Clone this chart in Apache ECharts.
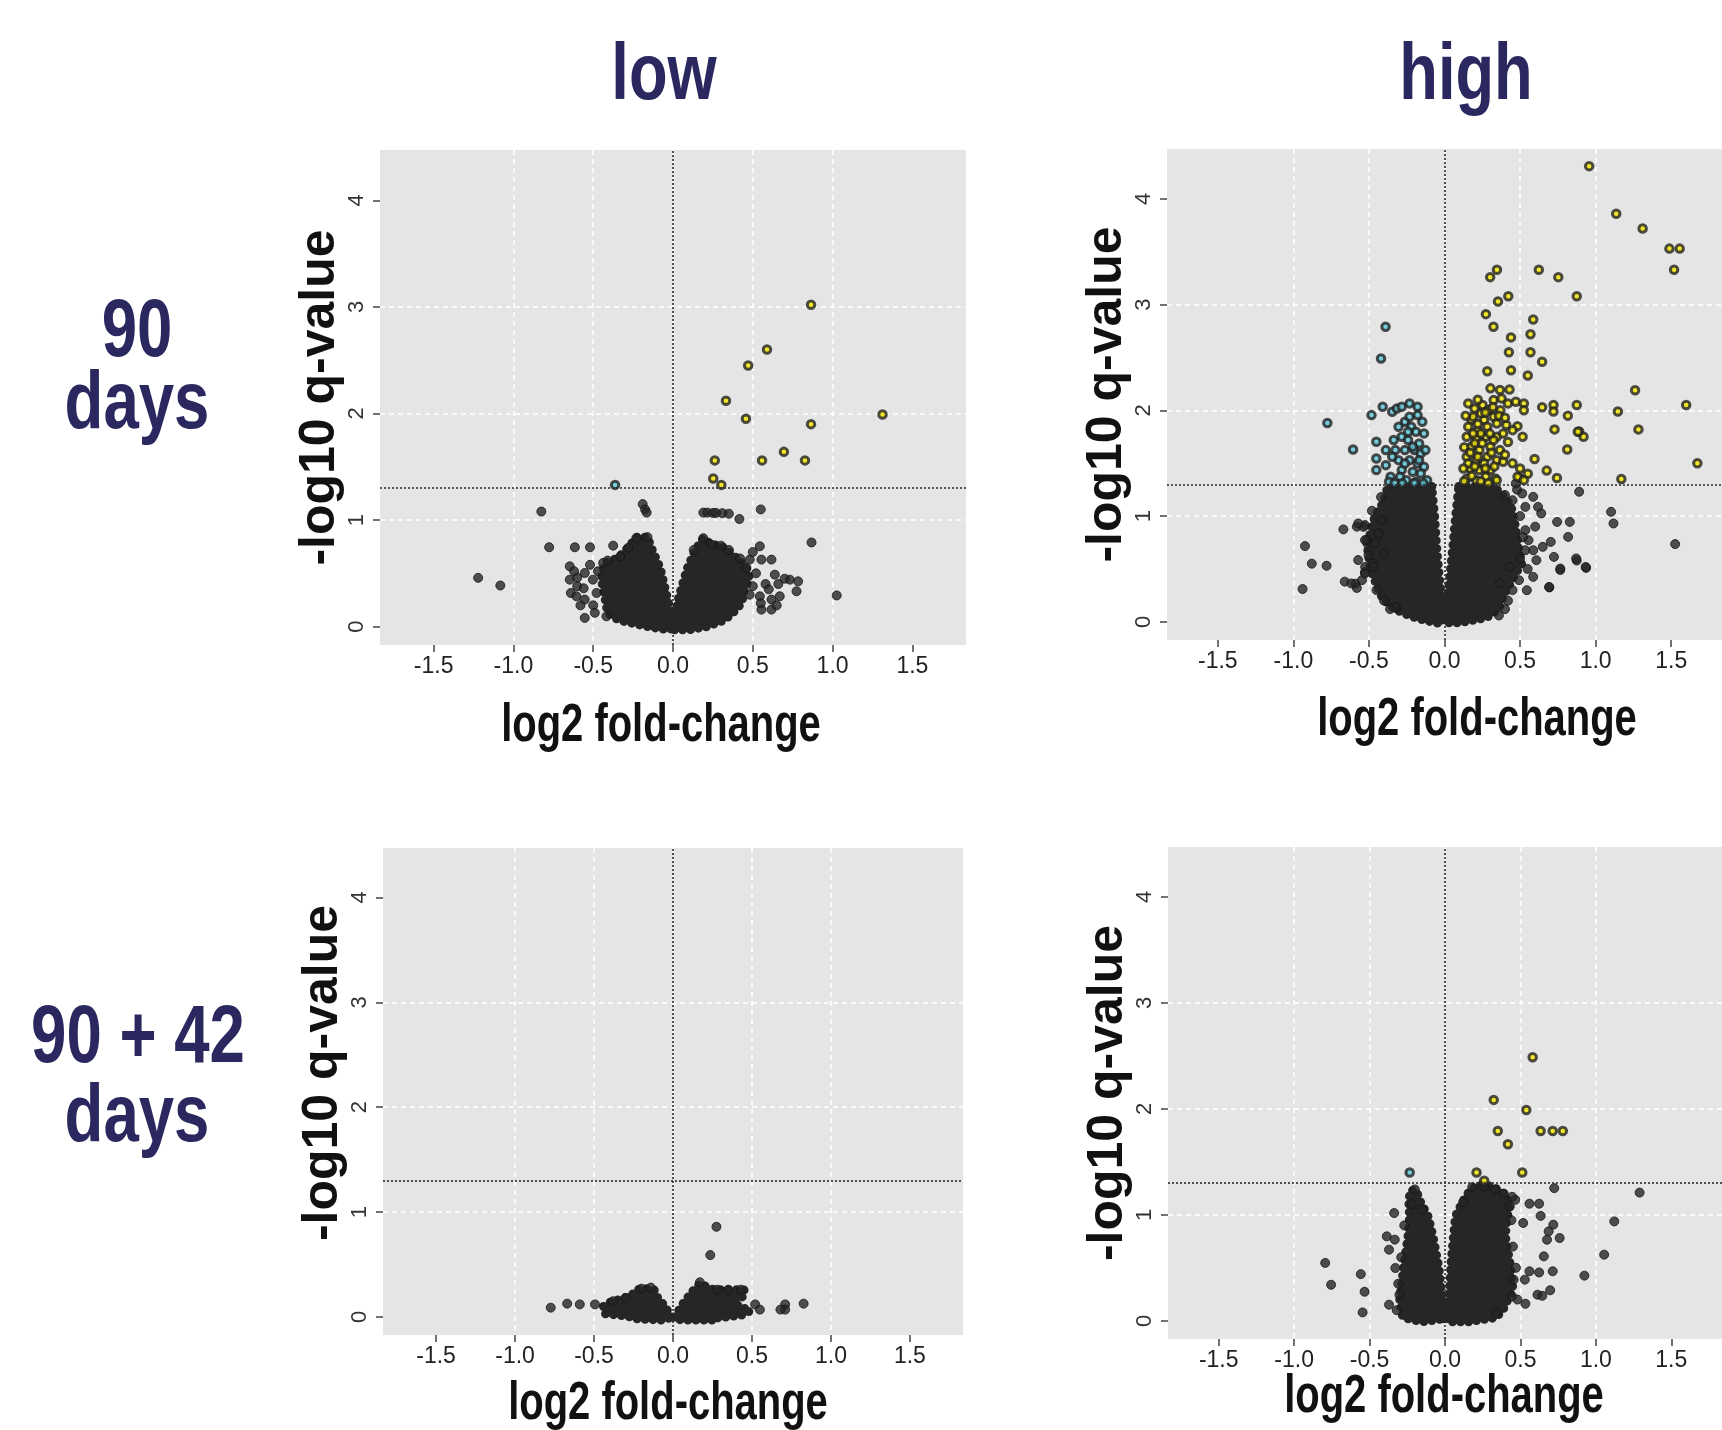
<!DOCTYPE html>
<html><head><meta charset="utf-8">
<script src="https://cdn.jsdelivr.net/npm/echarts@6/dist/echarts.min.js"></script>
<style>html,body{margin:0;padding:0;background:#fff}#c{width:1722px;height:1430px}</style>
</head><body><div id="c"></div>
<script>
// ---------------- data ----------------
const columnTitles = ['low', 'high'];
const rowTitles = [['90', 'days'], ['90 + 42', 'days']];
const xAxisTitle = 'log2 fold-change';
const yAxisTitle = '-log10 q-value';
const xTickValues = [-1.5, -1, -0.5, 0, 0.5, 1, 1.5];
const xTickLabels = ['-1.5', '-1.0', '-0.5', '0.0', '0.5', '1.0', '1.5'];
const yTickValues = [0, 1, 2, 3, 4];
const yTickLabels = ['0', '1', '2', '3', '4'];
const xRange = [-1.836, 1.836];
const yRange = [-0.172, 4.472];
const qThreshold = 1.301;

// dense cores (outline of the solid point mass), [log2FC, -log10 q]
const low90Core = [
  [[0, 0.0], [-0.01, 0.1], [-0.04, 0.3], [-0.08, 0.55], [-0.13, 0.72], [-0.16, 0.84], [-0.23, 0.84], [-0.27, 0.76], [-0.34, 0.65], [-0.37, 0.63], [-0.43, 0.59], [-0.45, 0.45], [-0.43, 0.30], [-0.41, 0.13], [-0.34, 0.06], [-0.22, 0.02], [-0.12, -0.01], [-0.02, -0.03]],
  [[0.01, -0.03], [0.01, 0.1], [0.04, 0.3], [0.09, 0.55], [0.14, 0.72], [0.19, 0.83], [0.24, 0.77], [0.30, 0.76], [0.36, 0.69], [0.41, 0.63], [0.46, 0.55], [0.48, 0.45], [0.45, 0.36], [0.43, 0.22], [0.37, 0.12], [0.32, 0.06], [0.21, 0.0], [0.10, -0.03]]
];
const low90NS = [
  [-0.825, 1.08], [-0.19, 1.15], [-0.175, 1.10], [-0.165, 1.07], [0.19, 1.07], [0.215, 1.07], [0.25, 1.067], [0.27, 1.067], [0.31, 1.065], [0.35, 1.06], [0.416, 1.01],
  [0.55, 1.10], [0.868, 0.79], [-0.776, 0.745], [-0.615, 0.745], [-0.52, 0.745], [-0.375, 0.76], [-1.221, 0.458], [-1.082, 0.386], [1.026, 0.293],
  [-0.647, 0.566], [-0.647, 0.441], [-0.64, 0.316], [-0.605, 0.285], [-0.553, 0.504], [-0.553, 0.254], [-0.553, 0.082], [-0.502, 0.441], [-0.479, 0.316], [-0.417, 0.097], [-0.438, 0.598],
  [-0.62, 0.52], [-0.6, 0.38], [-0.58, 0.2], [-0.56, 0.36], [-0.52, 0.58], [-0.5, 0.2], [-0.49, 0.13], [-0.47, 0.52], [-0.6, 0.46],
  [0.544, 0.754], [0.554, 0.629], [0.617, 0.629], [0.481, 0.629], [0.638, 0.488], [0.732, 0.441], [0.784, 0.425], [0.774, 0.332], [0.669, 0.285], [0.544, 0.285], [0.617, 0.254], [0.554, 0.16], [0.617, 0.16],
  [0.5, 0.7], [0.52, 0.5], [0.58, 0.4], [0.6, 0.35], [0.66, 0.4], [0.7, 0.45], [0.5, 0.38], [0.55, 0.22], [0.65, 0.2], [0.48, 0.3],
  [-0.23, 0.83], [-0.16, 0.84], [-0.28, 0.74], [-0.33, 0.66], [-0.41, 0.62], [0.19, 0.83], [0.24, 0.77], [0.3, 0.76], [0.35, 0.72], [0.13, 0.72], [0.42, 0.64], [0.46, 0.55]
];
const low90Down = [[-0.363, 1.33]];
const low90Up = [
  [0.865, 3.02], [0.589, 2.60], [0.471, 2.45], [0.332, 2.12], [0.457, 1.95], [0.865, 1.90], [1.313, 1.99],
  [0.695, 1.64], [0.262, 1.56], [0.558, 1.56], [0.827, 1.56], [0.252, 1.39], [0.303, 1.33]
];

const high90Core = [
  [[-0.084, 1.28], [-0.376, 1.28], [-0.40, 1.14], [-0.46, 1.0], [-0.49, 0.85], [-0.51, 0.70], [-0.49, 0.50], [-0.45, 0.35], [-0.41, 0.22], [-0.33, 0.12], [-0.22, 0.05], [-0.12, 0.01], [-0.02, -0.02], [-0.01, 0.1], [-0.03, 0.36], [-0.05, 0.67], [-0.065, 1.0]],
  [[0.094, 1.28], [0.325, 1.28], [0.38, 1.21], [0.44, 1.10], [0.47, 0.90], [0.49, 0.70], [0.51, 0.55], [0.45, 0.40], [0.39, 0.25], [0.36, 0.12], [0.28, 0.04], [0.10, -0.01], [0.02, -0.01], [0.01, 0.1], [0.03, 0.36], [0.052, 0.67], [0.073, 0.99]]
];
const high90NS = [
  [-0.923, 0.716], [-0.878, 0.55], [-0.78, 0.53], [-0.939, 0.31], [-0.669, 0.874], [-0.66, 0.38], [-0.59, 0.36], [-0.58, 0.32], [-0.58, 0.9], [-0.526, 0.915], [-0.51, 0.74], [-0.46, 0.74], [-0.526, 0.47], [-0.32, 0.13],
  [0.891, 1.23], [1.102, 1.04], [1.118, 0.93], [1.526, 0.735], [0.937, 0.51], [0.875, 0.58], [0.766, 0.49], [0.694, 0.325],
  [0.472, 1.308], [0.514, 1.214], [0.535, 1.087], [0.587, 1.182], [0.619, 1.087], [0.64, 1.025], [0.535, 0.867], [0.556, 0.772], [0.535, 0.677], [0.587, 0.677], [0.608, 0.583], [0.65, 0.709],
  [0.703, 0.756], [0.745, 0.945], [0.829, 0.945], [0.818, 0.803], [0.724, 0.614], [0.766, 0.504], [0.871, 0.599], [0.934, 0.519], [0.692, 0.33], [0.587, 0.425], [0.545, 0.299], [0.493, 0.394], [0.43, 0.519], [0.367, 0.362],
  [-0.536, 0.898], [-0.515, 0.772], [-0.525, 0.519], [-0.473, 0.551], [-0.546, 0.394], [-0.326, 0.141],
  [-0.571, 0.93], [-0.526, 0.773], [-0.503, 0.631], [-0.435, 0.836], [-0.571, 0.584], [-0.526, 0.457], [-0.469, 0.52], [-0.617, 0.363], [-0.413, 0.962], [-0.401, 0.647],
  [0.4, 1.2], [0.45, 1.15], [0.5, 1.0], [0.52, 0.8], [0.5, 0.6], [0.45, 0.3], [0.42, 0.2], [0.55, 0.5], [0.6, 0.9], [0.48, 1.25],
  [-0.45, 0.3], [-0.4, 0.2], [-0.36, 0.12], [-0.48, 1.05], [-0.42, 1.18], [0.4, 0.12], [0.36, 0.06]
];
const high90Down = [
  [-0.39, 2.79], [-0.42, 2.49], [-0.775, 1.88], [-0.605, 1.63], [-0.483, 1.955], [-0.409, 2.034], [-0.346, 1.987], [-0.315, 2.018], [-0.283, 2.034], [-0.231, 2.066], [-0.178, 2.034],
  [-0.451, 1.703], [-0.388, 1.624], [-0.451, 1.545], [-0.451, 1.435], [-0.388, 1.482], [-0.357, 1.372],
  [-0.262, 1.892], [-0.220, 1.845], [-0.189, 1.797], [-0.283, 1.750], [-0.241, 1.719], [-0.168, 1.687], [-0.325, 1.624], [-0.262, 1.624], [-0.199, 1.624], [-0.157, 1.593], [-0.304, 1.529],
  [-0.231, 1.529], [-0.178, 1.498], [-0.136, 1.466], [-0.283, 1.435], [-0.210, 1.419], [-0.157, 1.403], [-0.115, 1.340], [-0.252, 1.340], [-0.189, 1.325], [-0.294, 1.372], [-0.336, 1.719],
  [-0.241, 1.797], [-0.210, 1.656], [-0.168, 1.529], [-0.262, 1.498], [-0.346, 1.561], [-0.231, 1.939], [-0.147, 1.892], [-0.136, 1.782], [-0.178, 1.955], [-0.126, 1.624], [-0.304, 1.845],
  [-0.367, 1.325], [-0.33, 1.31], [-0.2, 1.31], [-0.14, 1.31], [-0.28, 1.31]
];
const high90Up = [
  [0.957, 4.31], [1.136, 3.86], [1.311, 3.72], [1.488, 3.53], [1.556, 3.53], [1.519, 3.33], [0.347, 3.33], [0.302, 3.26], [0.624, 3.33], [0.753, 3.26], [0.875, 3.08], [0.354, 3.03], [0.422, 3.08],
  [0.274, 2.91], [0.324, 2.79], [0.587, 2.86], [0.569, 2.72], [0.44, 2.69], [0.426, 2.55], [0.569, 2.55], [0.646, 2.46], [0.283, 2.37], [0.44, 2.38], [0.551, 2.33], [1.261, 2.19], [1.599, 2.05],
  [1.147, 1.99], [1.283, 1.82], [0.875, 2.05], [0.721, 2.05], [0.721, 1.99], [0.646, 2.03], [0.816, 1.95], [0.728, 1.82], [0.891, 1.80], [0.92, 1.75], [0.812, 1.63], [0.596, 1.54], [0.676, 1.43],
  [0.744, 1.36], [1.17, 1.35], [0.551, 1.40], [0.494, 1.36], [0.517, 1.75], [0.483, 1.85], [1.673, 1.50],
  [0.304, 2.208], [0.367, 2.192], [0.43, 2.198], [0.325, 2.097], [0.378, 2.113], [0.42, 2.066], [0.472, 2.081], [0.525, 2.066], [0.525, 2.0], [0.882, 1.797], [0.483, 1.372], [0.525, 1.34], [0.336, 1.356],
  [0.157, 2.066], [0.199, 2.018], [0.241, 1.971], [0.178, 1.908], [0.262, 1.908], [0.325, 1.939], [0.157, 1.845], [0.220, 1.813], [0.283, 1.845], [0.346, 1.876], [0.409, 1.861], [0.147, 1.750],
  [0.210, 1.734], [0.273, 1.750], [0.346, 1.750], [0.178, 1.656], [0.231, 1.624], [0.304, 1.656], [0.367, 1.624], [0.147, 1.561], [0.210, 1.529], [0.283, 1.561], [0.346, 1.529], [0.388, 1.514],
  [0.168, 1.451], [0.231, 1.435], [0.304, 1.435], [0.147, 1.356], [0.210, 1.340], [0.273, 1.372], [0.346, 1.340], [0.189, 1.939], [0.252, 2.050], [0.294, 2.003], [0.220, 1.561], [0.262, 1.498],
  [0.157, 1.498], [0.325, 1.719], [0.388, 1.782], [0.451, 1.813], [0.13, 1.65], [0.125, 1.45], [0.13, 1.33], [0.18, 1.38], [0.24, 1.33], [0.29, 1.31], [0.2, 1.47], [0.27, 1.45], [0.2, 1.69],
  [0.25, 1.69], [0.24, 1.78], [0.19, 1.78], [0.3, 1.78], [0.22, 1.87], [0.27, 1.98], [0.32, 2.03], [0.37, 2.0], [0.36, 1.95], [0.4, 1.93], [0.31, 1.6], [0.33, 1.47], [0.17, 1.6], [0.14, 1.95],
  [0.22, 2.1], [0.42, 1.7], [0.4, 1.58], [0.45, 1.5], [0.5, 1.45]
];

const low9042Core = [
  [[-0.01, 0.0], [-0.05, 0.1], [-0.10, 0.19], [-0.12, 0.26], [-0.17, 0.27], [-0.23, 0.26], [-0.26, 0.21], [-0.33, 0.17], [-0.40, 0.14], [-0.44, 0.10], [-0.43, 0.03], [-0.30, 0.01], [-0.22, -0.02], [-0.05, -0.03]],
  [[0.01, 0.0], [0.06, 0.12], [0.12, 0.24], [0.175, 0.32], [0.22, 0.28], [0.26, 0.26], [0.45, 0.26], [0.45, 0.2], [0.38, 0.15], [0.42, 0.1], [0.49, 0.06], [0.44, 0.02], [0.28, -0.01], [0.28, -0.03], [0.05, -0.03]]
];
const low9042NS = [
  [0.275, 0.86], [0.236, 0.59], [-0.774, 0.089], [-0.67, 0.127], [-0.59, 0.12], [-0.494, 0.12], [0.827, 0.127], [0.71, 0.12], [0.71, 0.07], [0.52, 0.12], [0.55, 0.07], [0.68, 0.07],
  [-0.2, 0.27], [-0.14, 0.28], [-0.3, 0.18], [-0.38, 0.15], [0.17, 0.33], [0.28, 0.26], [0.35, 0.26], [0.43, 0.26]
];
const low9042Down = [];
const low9042Up = [];

const high9042Core = [
  [[-0.005, 0.02], [-0.04, 0.5], [-0.08, 0.8], [-0.11, 0.98], [-0.165, 1.13], [-0.19, 1.23], [-0.23, 1.23], [-0.24, 1.13], [-0.235, 0.98], [-0.245, 0.8], [-0.275, 0.5], [-0.30, 0.2], [-0.28, 0.03], [-0.15, -0.01]],
  [[0.014, 0.03], [0.03, 0.3], [0.04, 0.55], [0.056, 0.8], [0.07, 0.99], [0.12, 1.13], [0.16, 1.22], [0.22, 1.28], [0.28, 1.28], [0.35, 1.24], [0.39, 1.2], [0.43, 1.1], [0.41, 0.95], [0.40, 0.8], [0.43, 0.55], [0.45, 0.3], [0.39, 0.12], [0.34, 0.03], [0.15, -0.01], [0.02, -0.01]]
];
const high9042NS = [
  [0.724, 1.252], [1.122, 0.938], [1.055, 0.624], [0.924, 0.426], [0.56, 1.105], [0.624, 1.105], [0.634, 0.99], [0.518, 0.923], [0.718, 0.907], [0.687, 0.844], [0.676, 0.765], [0.76, 0.781],
  [0.655, 0.608], [0.714, 0.467], [0.624, 0.456], [0.56, 0.467], [0.529, 0.388], [0.697, 0.288], [0.613, 0.246], [0.645, 0.236], [0.533, 0.161], [0.445, 0.23], [0.34, 0.073], [0.455, 0.388],
  [0.466, 1.142], [0.445, 1.17], [-0.337, 1.017], [-0.386, 0.797], [-0.333, 0.766], [-0.371, 0.671], [-0.329, 0.498], [-0.371, 0.152], [-0.302, 0.246],
  [1.29, 1.21], [-0.794, 0.546], [-0.755, 0.34], [-0.558, 0.44], [-0.533, 0.274], [-0.546, 0.079],
  [-0.2, 1.24], [-0.22, 1.1], [-0.15, 1.05], [0.18, 1.26], [0.26, 1.27], [0.33, 1.24], [0.39, 1.2], [0.43, 1.08], [0.12, 1.12],
  [-0.27, 0.9], [-0.29, 0.6], [-0.31, 0.35], [-0.32, 0.1], [0.47, 0.5], [0.48, 0.2], [0.45, 0.7], [0.44, 0.95]
];
const high9042Down = [[-0.234, 1.40]];
const high9042Up = [
  [0.581, 2.488], [0.323, 2.085], [0.539, 1.99], [0.35, 1.792], [0.634, 1.792], [0.714, 1.792], [0.781, 1.792], [0.417, 1.667], [0.209, 1.40], [0.512, 1.40], [0.26, 1.321]
];

// ---------------- layout / style ----------------
const panels = [
  { core: low90Core, ns: low90NS, down: low90Down, up: low90Up,
    grid: { left: 380, top: 150, width: 586, height: 495 }, yGap: 33, yShift: 0, xTitle: [661, 726] },
  { core: high90Core, ns: high90NS, down: high90Down, up: high90Up,
    grid: { left: 1167, top: 149, width: 583, height: 491 }, yGap: 33, yShift: 0, xTitle: [1477, 720] },
  { core: low9042Core, ns: low9042NS, down: low9042Down, up: low9042Up,
    grid: { left: 383, top: 848, width: 580, height: 487 }, yGap: 34, yShift: 37, xTitle: [668, 1404] },
  { core: high9042Core, ns: high9042NS, down: high9042Down, up: high9042Up,
    grid: { left: 1168, top: 847, width: 582, height: 492 }, yGap: 34, yShift: 0, xTitle: [1444, 1397] }
];

const INK = '#262626';
const NAVY = '#2a285f';
const SANS = '"Liberation Sans", Arial, sans-serif';

const grids = [], xAxes = [], yAxes = [], series = [];
const graphic = [];
panels.forEach((p, i) => {
  grids.push(Object.assign({ show: true, backgroundColor: '#e5e5e5', borderWidth: 0 }, p.grid));
  xAxes.push({
    gridIndex: i, type: 'value', min: xRange[0], max: xRange[1],
    axisLine: { show: false, onZero: false },
    axisTick: { show: true, length: 7, customValues: xTickValues, lineStyle: { color: '#444', width: 1.5 } },
    axisLabel: { customValues: xTickValues, margin: 10, fontFamily: SANS, fontSize: 23, color: '#222',
      formatter: v => xTickLabels[xTickValues.findIndex(t => Math.abs(t - v) < 1e-6)] || '' },
    splitLine: { show: true, showMinLine: false, showMaxLine: false, lineStyle: { color: '#ffffff', type: [5, 4], width: 1.6 } }
  });
  yAxes.push({
    gridIndex: i, type: 'value', min: yRange[0], max: yRange[1],
    name: yAxisTitle, nameLocation: 'middle', nameGap: p.yGap,
    nameTextStyle: { fontFamily: SANS, fontWeight: 'bold', fontSize: 50, color: '#111',
      padding: [0, 0, 0, p.yShift] },
    axisLine: { show: false, onZero: false },
    axisTick: { show: true, length: 7, customValues: yTickValues, lineStyle: { color: '#444', width: 1.5 } },
    axisLabel: { customValues: yTickValues, rotate: 90, margin: 12, fontFamily: SANS, fontSize: 22, color: '#333',
      formatter: v => yTickLabels[yTickValues.findIndex(t => Math.abs(t - v) < 1e-6)] || '' },
    splitLine: { show: true, showMinLine: false, showMaxLine: false, lineStyle: { color: '#ffffff', type: [5, 4], width: 1.6 } }
  });
  // condensed x-axis title (the reference uses a condensed face)
  graphic.push({ type: 'text', x: p.xTitle[0], y: p.xTitle[1], scaleX: 0.74,
    style: { text: xAxisTitle, fontFamily: SANS, fontWeight: 'bold', fontSize: 54, fill: '#111', align: 'center', verticalAlign: 'middle' } });

  const lobes = p.core;
  // solid mass of overlapping points: filled outline with a beaded (round-dot) edge
  series.push({
    type: 'custom', xAxisIndex: i, yAxisIndex: i, z: 1, silent: true, clip: true,
    data: lobes.map(l => l[0]),
    renderItem: (params, api) => ({
      type: 'polygon',
      shape: { points: lobes[params.dataIndex].map(pt => api.coord(pt)) },
      style: { fill: INK, stroke: INK, lineWidth: 9, lineDash: [0, 8], lineCap: 'round', lineJoin: 'round' }
    })
  });
  series.push({
    type: 'scatter', xAxisIndex: i, yAxisIndex: i, z: 2, silent: true, symbolSize: 9,
    itemStyle: { color: INK, borderColor: '#151515', borderWidth: 1 },
    data: p.ns
  });
  series.push({
    type: 'scatter', xAxisIndex: i, yAxisIndex: i, z: 3, silent: true, symbolSize: 7.5,
    itemStyle: { color: '#5cc8da', borderColor: '#222', borderWidth: 3 },
    data: p.down
  });
  series.push({
    type: 'scatter', xAxisIndex: i, yAxisIndex: i, z: 3, silent: true, symbolSize: 7.5,
    itemStyle: { color: '#f5e600', borderColor: '#222', borderWidth: 3 },
    data: p.up,
    markLine: {
      silent: true, symbol: 'none', label: { show: false }, animation: false,
      lineStyle: { color: '#2a2a2a', type: [2, 2], width: 1.6 },
      data: [{ xAxis: 0 }, { yAxis: qThreshold }]
    }
  });
});

const titleFont = { fontFamily: SANS, fontWeight: 'bold', fontSize: 80, fill: NAVY, align: 'center', verticalAlign: 'middle' };
const rowFont = { fontFamily: SANS, fontWeight: 'bold', fontSize: 82, fill: NAVY, align: 'center', verticalAlign: 'middle' };
graphic.push(
  { type: 'text', x: 664, y: 77, scaleX: 0.79, style: Object.assign({ text: columnTitles[0] }, titleFont) },
  { type: 'text', x: 1466, y: 77, scaleX: 0.79, style: Object.assign({ text: columnTitles[1] }, titleFont) },
  { type: 'text', x: 137, y: 333, scaleX: 0.775, style: Object.assign({ text: rowTitles[0][0] }, rowFont) },
  { type: 'text', x: 137, y: 405, scaleX: 0.775, style: Object.assign({ text: rowTitles[0][1] }, rowFont) },
  { type: 'text', x: 138, y: 1039, scaleX: 0.775, style: Object.assign({ text: rowTitles[1][0] }, rowFont) },
  { type: 'text', x: 137, y: 1118, scaleX: 0.775, style: Object.assign({ text: rowTitles[1][1] }, rowFont) }
);

const chart = echarts.init(document.getElementById('c'), null, { renderer: 'canvas' });
chart.setOption({
  animation: false,
  backgroundColor: '#ffffff',
  grid: grids, xAxis: xAxes, yAxis: yAxes, series: series, graphic: graphic
});
</script></body></html>
